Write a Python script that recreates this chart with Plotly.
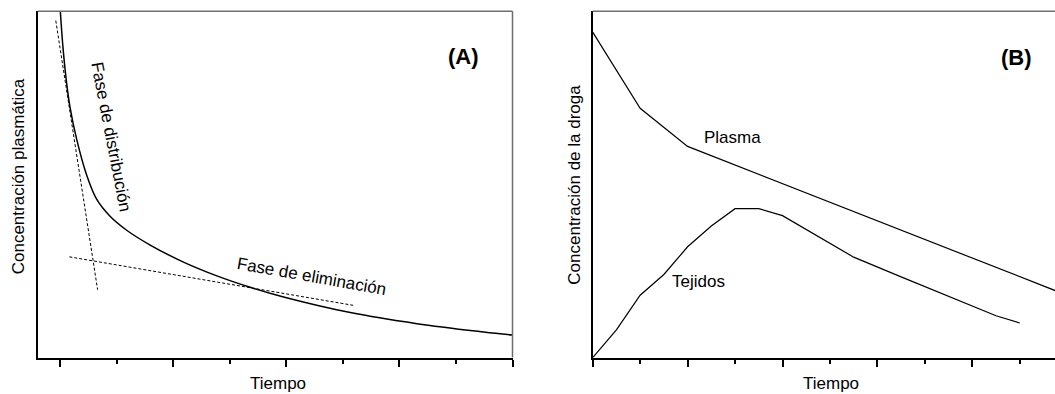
import plotly.graph_objects as go

W, H = 1055, 394

# Panel A: plasma concentration after an IV bolus (two-compartment decay)
tiempo_a = [0, 0.05, 0.11, 0.17, 0.29, 0.47, 0.64, 0.88, 1.18, 1.59, 2.15,
            2.77, 3.36, 3.95, 5.13, 6.31, 7.49, 8.0]
conc_a = [100, 89, 79.5, 72.5, 63, 52.5, 45.8, 40.8, 36.7, 32.5, 27.8,
          23.6, 20.3, 17.5, 13.0, 9.8, 7.4, 6.5]

# Straight-line asymptotes of the distribution and elimination phases
dist_x = [-0.08, 0.66]
dist_y = [97.3, 19.6]
elim_x = [0.16, 5.18]
elim_y = [29.1, 15.1]

# Panel B: drug in plasma vs. tissue
tiempo_plasma = [0, 1, 2, 10]
conc_plasma = [94, 72, 61, 18]
tiempo_tejidos = [0, 0.5, 1, 1.5, 2, 2.5, 3, 3.5, 4, 5.5, 6.5, 7, 8, 8.5, 9]
conc_tejidos = [0, 8, 18, 24, 32, 38, 43, 43, 41, 29, 23.3, 20.5, 14.7, 12.1, 10]

FONT = "Liberation Sans, Arial, sans-serif"
BLACK = "#000000"
FRAME_GREY = "#6e6e6e"

fig = go.Figure()

# ---- panel A ----
fig.add_trace(go.Scatter(x=tiempo_a, y=conc_a, mode="lines", line_shape="spline",
                         line=dict(color=BLACK, width=1.5, smoothing=1.0),
                         xaxis="x", yaxis="y", hoverinfo="skip"))
fig.add_trace(go.Scatter(x=dist_x, y=dist_y, mode="lines",
                         line=dict(color=BLACK, width=1, dash="3px,2px"),
                         xaxis="x", yaxis="y", hoverinfo="skip"))
fig.add_trace(go.Scatter(x=elim_x, y=elim_y, mode="lines",
                         line=dict(color=BLACK, width=1, dash="3px,2px"),
                         xaxis="x", yaxis="y", hoverinfo="skip"))

# ---- panel B ----
fig.add_trace(go.Scatter(x=tiempo_plasma, y=conc_plasma, mode="lines",
                         line=dict(color=BLACK, width=1.2),
                         xaxis="x2", yaxis="y2", hoverinfo="skip"))
fig.add_trace(go.Scatter(x=tiempo_tejidos, y=conc_tejidos, mode="lines",
                         line=dict(color=BLACK, width=1.2),
                         xaxis="x2", yaxis="y2", hoverinfo="skip"))

y_dom = [(H - 357.6) / H, (H - 11.3) / H]

xaxis_common = dict(
    showline=True, linecolor=BLACK, linewidth=2,
    showgrid=False, zeroline=False, showticklabels=False,
    ticks="outside", ticklen=7, tickwidth=1.5, tickcolor=BLACK,
    tick0=0, dtick=2,
    minor=dict(ticks="outside", ticklen=4, tickwidth=1.5, tickcolor=BLACK,
               dtick=1, tick0=0, showgrid=False),
    fixedrange=True,
)
yaxis_common = dict(
    showline=True, linecolor=BLACK, linewidth=2,
    showgrid=False, zeroline=False, showticklabels=False, ticks="",
    range=[0, 100], domain=y_dom, fixedrange=True,
)

fig.update_layout(
    width=W, height=H,
    margin=dict(l=0, r=0, t=0, b=0),
    paper_bgcolor="white", plot_bgcolor="white",
    showlegend=False,
    font=dict(family=FONT, size=17, color=BLACK),
    xaxis=dict(xaxis_common, domain=[37.7 / W, 512.5 / W], range=[-0.4, 8.0], anchor="y"),
    yaxis=dict(yaxis_common, anchor="x"),
    xaxis2=dict(xaxis_common, domain=[592.7 / W, 1.0], range=[0, 9.743], anchor="y2"),
    yaxis2=dict(yaxis_common, anchor="x2"),
)

# top and right borders of the frames (thinner, grey)
frame = dict(color=FRAME_GREY, width=1.5)
fig.add_shape(type="line", xref="x domain", yref="y domain", x0=0, x1=1, y0=1, y1=1, line=frame)
fig.add_shape(type="line", xref="x domain", yref="y domain", x0=1, x1=1, y0=0, y1=1, line=frame)
fig.add_shape(type="line", xref="x2 domain", yref="y2 domain", x0=0, x1=1, y0=1, y1=1, line=frame)

def label(text, x, y, xref, yref, size=17, angle=0):
    fig.add_annotation(text=text, x=x, y=y, xref=xref, yref=yref,
                       showarrow=False, textangle=angle,
                       xanchor="center", yanchor="middle",
                       font=dict(family=FONT, size=size, color=BLACK))

# in-plot labels, panel A
label("Fase de distribución", 0.894, 63.8, "x", "y", angle=79)
label("Fase de eliminación", 4.44, 23.4, "x", "y", angle=10)
label("<b>(A)</b>", 7.14, 86.9, "x", "y", size=22)

# in-plot labels, panel B
label("Plasma", 2.94, 63.6, "x2", "y2")
label("Tejidos", 2.22, 22.1, "x2", "y2")
label("<b>(B)</b>", 8.93, 86.8, "x2", "y2", size=22)

# axis titles
label("Tiempo", 277.8 / W, 1 - 383 / H, "paper", "paper")
label("Tiempo", 830.5 / W, 1 - 383 / H, "paper", "paper")
label("Concentración plasmática", 18.3 / W, 1 - 176 / H, "paper", "paper", angle=-90)
label("Concentración de la droga", 573.7 / W, 1 - 185 / H, "paper", "paper", angle=-90)

fig.write_html("out.html")
